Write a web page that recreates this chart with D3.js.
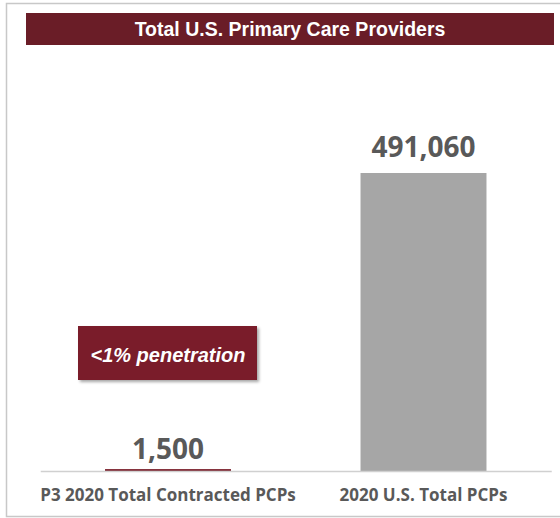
<!DOCTYPE html>
<html>
<head>
<meta charset="utf-8">
<script src="https://cdn.jsdelivr.net/npm/d3@7"></script>
<style>
  body { margin: 0; background: #fff; }
  svg { display: block; }
</style>
</head>
<body>
<div class="chart"></div>
<script>
var svgWidth = 560;
var svgHeight = 518;

// chart data
var categories = ["P3 2020 Total Contracted PCPs", "2020 U.S. Total PCPs"];
var values = [1500, 491060];
var valueLabels = ["1,500", "491,060"];
var barColors = ["#7a1f2b", "#a6a6a6"];
var title = "Total U.S. Primary Care Providers";
var note = "<1% penetration";

var baseY = 471;
var topY = 174;

var svg = d3.select(".chart")
  .append("svg")
  .attr("width", svgWidth)
  .attr("height", svgHeight);

// outer frame (slide border)
svg.append("path")
  .attr("d", "M560,3.5 H6.5 V516.5 H560")
  .attr("fill", "none")
  .attr("stroke", "#c8c8c8")
  .attr("stroke-width", 1.5);

// title banner
svg.append("rect")
  .attr("x", 26)
  .attr("y", 13)
  .attr("width", 528)
  .attr("height", 32)
  .attr("fill", "#6a1d27");

svg.append("text")
  .attr("x", 290)
  .attr("y", 36)
  .attr("text-anchor", "middle")
  .attr("font-family", "Liberation Sans, Arial, sans-serif")
  .attr("font-weight", "bold")
  .attr("font-size", 19.5)
  .attr("fill", "#ffffff")
  .text(title);

// scales
var x = d3.scaleBand()
  .domain(categories)
  .range([40.25, 551.25])
  .paddingInner(0.507)
  .paddingOuter(0.2535);

var y = d3.scaleLinear()
  .domain([0, d3.max(values)])
  .range([baseY, topY]);

var data = categories.map(function(c, i) {
  return { cat: c, value: values[i], label: valueLabels[i], color: barColors[i] };
});

// bars
svg.selectAll(".bar")
  .data(data)
  .enter().append("rect")
  .attr("class", "bar")
  .attr("x", d => x(d.cat))
  .attr("y", d => y(d.value) - 1)
  .attr("width", x.bandwidth())
  .attr("height", d => y(0) - y(d.value) + 1)
  .attr("fill", d => d.color);

// baseline axis
var xAxis = d3.axisBottom(x).tickSize(0).tickPadding(18);
var axisG = svg.append("g")
  .attr("transform", `translate(0, ${baseY})`)
  .call(xAxis);

axisG.select(".domain")
  .attr("stroke", "#d0d0d0")
  .attr("stroke-width", 1.5);

axisG.selectAll("text")
  .attr("font-family", "Open Sans, sans-serif")
  .attr("font-weight", "bold")
  .attr("font-size", 17)
  .attr("fill", "#595959");

// value labels (small bar label sits closer to its bar)
svg.selectAll(".val")
  .data(data)
  .enter().append("text")
  .attr("class", "val")
  .attr("x", d => x(d.cat) + x.bandwidth() / 2)
  .attr("y", (d, i) => y(d.value) - (i === 0 ? 11 : 17))
  .attr("text-anchor", "middle")
  .attr("font-family", "Open Sans, sans-serif")
  .attr("font-weight", "bold")
  .attr("font-size", 28)
  .attr("fill", "#595959")
  .text(d => d.label);

// penetration callout
var defs = svg.append("defs");
var filter = defs.append("filter")
  .attr("id", "shadow")
  .attr("x", "-10%").attr("y", "-10%")
  .attr("width", "130%").attr("height", "140%");
filter.append("feDropShadow")
  .attr("dx", 2).attr("dy", 2)
  .attr("stdDeviation", 1.5)
  .attr("flood-color", "#000")
  .attr("flood-opacity", 0.35);

svg.append("rect")
  .attr("x", 78)
  .attr("y", 326)
  .attr("width", 179)
  .attr("height", 54)
  .attr("fill", "#7a1f2b")
  .attr("filter", "url(#shadow)");

svg.append("text")
  .attr("x", 168)
  .attr("y", 362)
  .attr("text-anchor", "middle")
  .attr("font-family", "Liberation Sans, Arial, sans-serif")
  .attr("font-weight", "bold")
  .attr("font-style", "italic")
  .attr("font-size", 20)
  .attr("fill", "#ffffff")
  .text(note);
</script>
</body>
</html>
